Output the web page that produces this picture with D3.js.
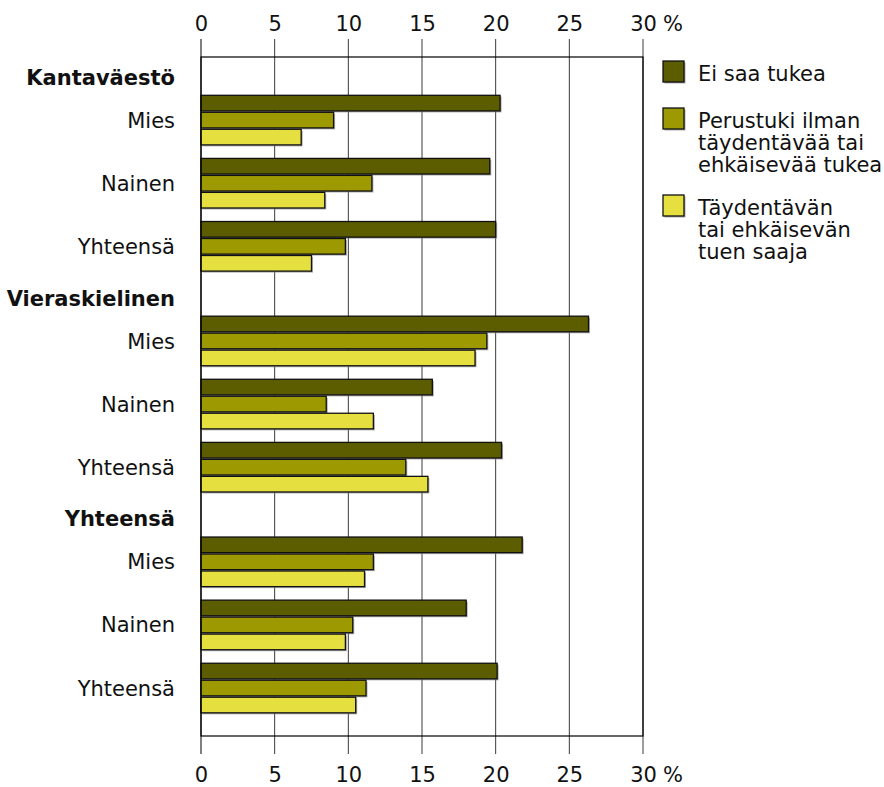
<!DOCTYPE html>
<html>
<head>
<meta charset="utf-8">
<script src="https://cdnjs.cloudflare.com/ajax/libs/d3/7.8.5/d3.min.js"></script>
<style>
  body { margin: 0; background: #fff; }
  text { font-family: "DejaVu Sans", Verdana, sans-serif; fill: #111; }
</style>
</head>
<body>
<div class="chart"></div>
<script>
'use strict';

// data
const sections = ["Kantaväestö", "Vieraskielinen", "Yhteensä"];
const groups = ["Mies", "Nainen", "Yhteensä"];
const seriesNames = ["Ei saa tukea", "Perustuki ilman täydentävää tai ehkäisevää tukea", "Täydentävän tai ehkäisevän tuen saaja"];
const legendLines = [
  ["Ei saa tukea"],
  ["Perustuki ilman", "täydentävää tai", "ehkäisevää tukea"],
  ["Täydentävän", "tai ehkäisevän", "tuen saaja"]
];
const seriesColors = ["#5c5c00", "#9c9a00", "#e5e03f"];

// one value per section x group, in order
const eiSaaTukea = [20.3, 19.6, 20.0, 26.3, 15.7, 20.4, 21.8, 18.0, 20.1];
const perustuki = [9.0, 11.6, 9.8, 19.4, 8.5, 13.9, 11.7, 10.3, 11.2];
const taydentava = [6.8, 8.4, 7.5, 18.6, 11.7, 15.4, 11.1, 9.8, 10.5];
const xTicks = [0, 5, 10, 15, 20, 25, 30];

(function() {
  const width = 884, height = 787;
  const left = 201, right = 643, top = 57, bottom = 736;
  const fontSize = 21;

  let svg = d3.select('.chart').append('svg')
    .attr('width', width).attr('height', height);

  let x = d3.scaleLinear().domain([0, 30]).range([left, right]);
  // slots: each section = header (half slot) + 3 groups
  let y = d3.scaleLinear().domain([0, 10.76]).range([top, bottom]);
  let inner = d3.scaleBand().domain(d3.range(3)).range([-24.8, 24.8]).paddingInner(0.08);

  let values = [eiSaaTukea, perustuki, taydentava];
  let rows = [];
  sections.forEach((s, j) => {
    groups.forEach((g, i) => {
      let idx = j * 3 + i;
      rows.push({ section: j, group: g, slot: 1 + j * 3.5 + i, vals: values.map(v => v[idx]) });
    });
  });

  // grid lines + ticks that stick out of the frame
  svg.append('g').selectAll('line')
    .data(xTicks)
    .enter().append('line')
      .attr('x1', d => x(d)).attr('x2', d => x(d))
      .attr('y1', top - 18).attr('y2', bottom + 18)
      .attr('stroke', d => d === 0 ? '#000' : '#3a3a3a')
      .attr('stroke-width', 1);

  // top and bottom axes (labels only, ticks drawn above)
  let gTop = svg.append('g').attr('transform', 'translate(0,31)')
    .call(d3.axisTop(x).tickValues(xTicks).tickSize(0).tickPadding(0));
  let gBot = svg.append('g').attr('transform', 'translate(0,782)')
    .call(d3.axisTop(x).tickValues(xTicks).tickSize(0).tickPadding(0));
  [gTop, gBot].forEach(g => {
    g.select('.domain').remove();
    g.selectAll('text')
      .attr('y', 0).attr('dy', 0)
      .style('font-family', '"DejaVu Sans", Verdana, sans-serif')
      .style('font-size', fontSize + 'px').attr('fill', '#111');
  });
  [31, 782].forEach(yy => {
    svg.append('text').attr('x', 663).attr('y', yy)
      .style('font-size', fontSize + 'px').text('%');
  });

  // bars
  let bars = svg.append('g');
  rows.forEach(r => {
    let cy = y(r.slot);
    r.vals.forEach((v, k) => {
      let by = cy + inner(k);
      bars.append('rect')
        .attr('x', x(0) + 1.5).attr('y', by + 1.5)
        .attr('width', x(v) - x(0)).attr('height', inner.bandwidth())
        .attr('fill', '#8a8a8a').attr('opacity', 0.7);
      bars.append('rect')
        .attr('x', x(0)).attr('y', by)
        .attr('width', x(v) - x(0)).attr('height', inner.bandwidth())
        .attr('fill', seriesColors[k])
        .attr('stroke', '#111').attr('stroke-width', 1.3);
    });
  });

  // frame
  svg.append('rect')
    .attr('x', left).attr('y', top)
    .attr('width', right - left).attr('height', bottom - top)
    .attr('fill', 'none').attr('stroke', '#000').attr('stroke-width', 1.2);

  // category labels
  svg.append('g').selectAll('text')
    .data(rows)
    .enter().append('text')
      .attr('x', 175).attr('y', d => y(d.slot))
      .attr('dy', '0.36em')
      .attr('text-anchor', 'end')
      .style('font-size', fontSize + 'px')
      .text(d => d.group);

  svg.append('g').selectAll('text')
    .data(sections)
    .enter().append('text')
      .attr('x', 175).attr('y', (d, j) => y(0.32 + j * 3.5))
      .attr('dy', '0.36em')
      .attr('text-anchor', 'end')
      .style('font-size', fontSize + 'px')
      .style('font-weight', 'bold')
      .text(d => d);

  // legend
  let legendTop = [61, 108, 195];
  let legend = svg.append('g');
  seriesNames.forEach((name, k) => {
    legend.append('rect')
      .attr('x', 664.5).attr('y', legendTop[k] + 1.5)
      .attr('width', 21).attr('height', 21)
      .attr('fill', '#8a8a8a').attr('opacity', 0.7);
    legend.append('rect')
      .attr('x', 663).attr('y', legendTop[k])
      .attr('width', 21).attr('height', 21)
      .attr('fill', seriesColors[k])
      .attr('stroke', '#111').attr('stroke-width', 1.3);
    legendLines[k].forEach((line, li) => {
      legend.append('text')
        .attr('x', 698).attr('y', legendTop[k] + 20 + li * 22)
        .style('font-size', fontSize + 'px')
        .text(line);
    });
  });
})();
</script>
</body>
</html>
